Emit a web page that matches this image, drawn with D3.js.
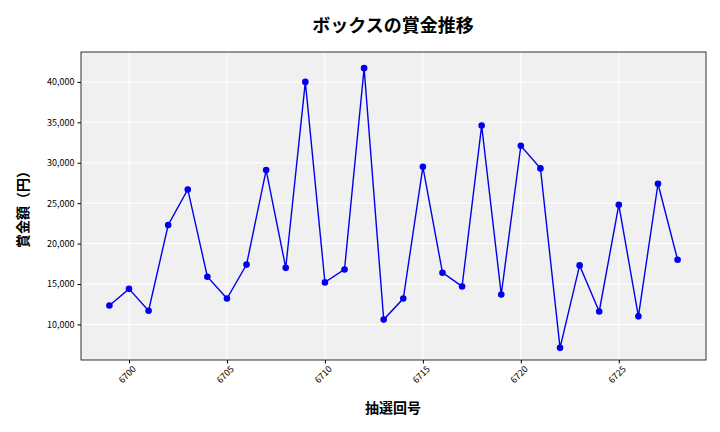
<!DOCTYPE html>
<html><head><meta charset="utf-8">
<script src="https://cdn.jsdelivr.net/npm/d3@7"></script>
<style>body{margin:0;background:#fff}text{font-family:"Noto Sans CJK JP","Noto Sans",sans-serif}</style>
</head><body><svg id="c" width="720" height="432"></svg>
<script>
const draws=[6699,6700,6701,6702,6703,6704,6705,6706,6707,6708,6709,6710,6711,6712,6713,6714,6715,6716,6717,6718,6719,6720,6721,6722,6723,6724,6725,6726,6727,6728];
const prizes=[12350,14400,11700,22300,26700,15900,13200,17400,29100,17000,40000,15200,16800,41700,10600,13200,29500,16400,14700,34600,13700,32100,29300,7100,17300,11600,24800,11000,27400,18000];
const xTicks=[6700,6705,6710,6715,6720,6725];
const yTicks=[10000,15000,20000,25000,30000,35000,40000];
const svg=d3.select("#c");
const L=81,R=706,T=52,B=360;
const x=d3.scaleLinear().domain([6697.55,6729.45]).range([L,R]);
const y=d3.scaleLinear().domain([5600,43700]).range([B,T]);
svg.append("rect").attr("x",L).attr("y",T).attr("width",R-L).attr("height",B-T).attr("fill","#f0f0f0");
svg.append("g").selectAll("line").data(xTicks).join("line").attr("x1",d=>x(d)).attr("x2",d=>x(d)).attr("y1",T).attr("y2",B).attr("stroke","#fff");
svg.append("g").selectAll("line").data(yTicks).join("line").attr("y1",d=>y(d)).attr("y2",d=>y(d)).attr("x1",L).attr("x2",R).attr("stroke","#fff");
svg.append("rect").attr("x",L).attr("y",T).attr("width",R-L).attr("height",B-T).attr("fill","none").attr("stroke","#000").attr("stroke-width",0.8);
const xa=svg.append("g").attr("transform",`translate(0,${B})`).call(d3.axisBottom(x).tickValues(xTicks).tickFormat(d3.format("d")).tickSize(3.5));
xa.select(".domain").remove();
xa.selectAll("text").attr("font-size",9).attr("transform",d=>"rotate(-45)").attr("text-anchor","end").attr("dx","-0.2em").attr("dy","0.6em");
const ya=svg.append("g").attr("transform",`translate(${L},0)`).call(d3.axisLeft(y).tickValues(yTicks).tickFormat(d3.format(",")).tickSize(3.5));
ya.select(".domain").remove();
ya.selectAll("text").attr("font-size",9);
svg.append("path").datum(draws.map((d,i)=>[d,prizes[i]])).attr("fill","none").attr("stroke","#0000ee").attr("stroke-width",1.4).attr("d",d3.line().x(d=>x(d[0])).y(d=>y(d[1])));
svg.append("g").selectAll("circle").data(draws).join("circle").attr("cx",d=>x(d)).attr("cy",(d,i)=>y(prizes[i])).attr("r",3.3).attr("fill","#0000ee");
svg.append("text").attr("x",393).attr("y",32).attr("text-anchor","middle").attr("font-size",18).attr("font-weight","bold").text("ボックスの賞金推移");
svg.append("text").attr("x",393).attr("y",413).attr("text-anchor","middle").attr("font-size",14).attr("font-weight","bold").text("抽選回号");
svg.append("text").attr("transform","translate(28,206) rotate(-90)").attr("text-anchor","middle").attr("font-size",14).attr("font-weight","bold").text("賞金額（円）");
</script></body></html>
